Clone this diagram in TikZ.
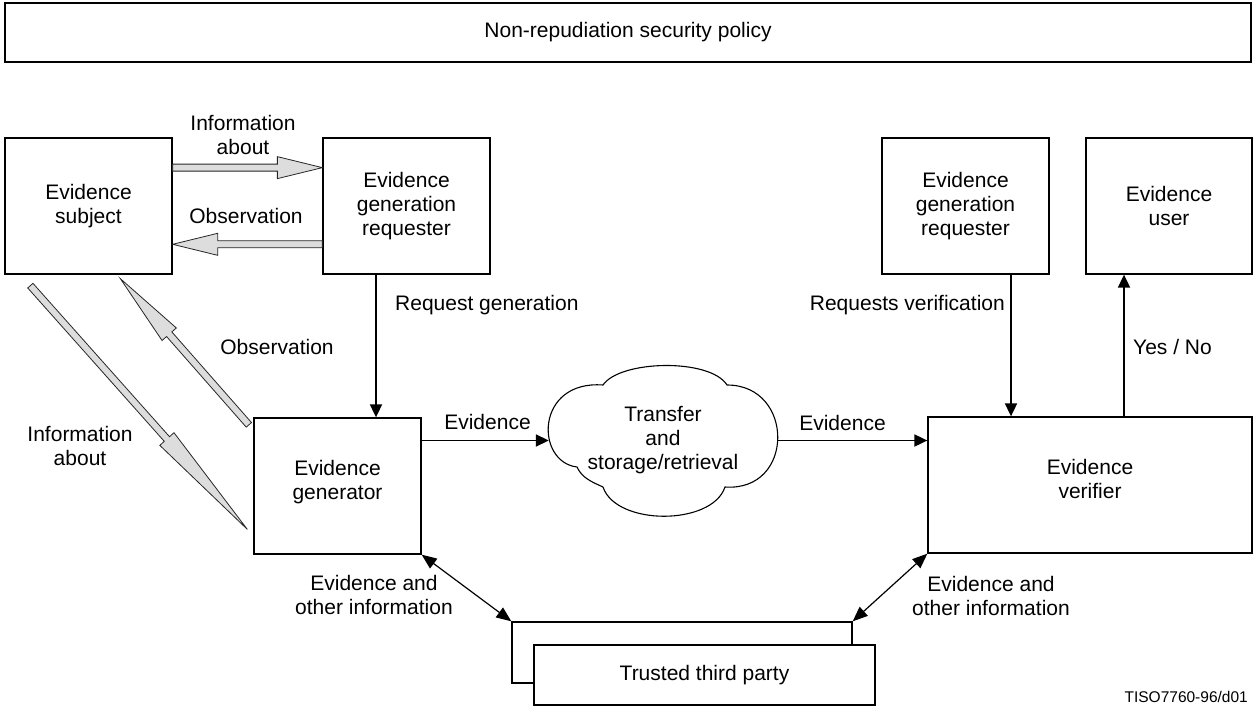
\documentclass[tikz,border=0pt]{standalone}
\usepackage{fontspec}
\setmainfont{Liberation Sans}
\usetikzlibrary{calc,arrows.meta}
\definecolor{fatgray}{RGB}{221,221,221}
\newcommand\fatarr[5]{% start, tip, head length, head half width, shaft half width
  \path (#1) coordinate (fa-s) (#2) coordinate (fa-t);
  \path ($(fa-t)!#3!(fa-s)$) coordinate (fa-h);
  \filldraw[fatstyle]
    ($(fa-s)!#5!90:(fa-t)$) -- ($(fa-h)!#5!90:(fa-t)$) -- ($(fa-h)!#4!90:(fa-t)$)
    -- (fa-t)
    -- ($(fa-h)!#4!-90:(fa-t)$) -- ($(fa-h)!#5!-90:(fa-t)$) -- ($(fa-s)!#5!-90:(fa-t)$) -- cycle;
}
\tikzset{
  box/.style={draw, line width=1.3pt, align=center, inner sep=0pt},
  lbl/.style={align=center, inner sep=0pt},
  fatstyle/.style={fill=fatgray, draw=black!85, line width=0.8pt, line join=miter},
  flow/.style={line width=1.8pt, -{Triangle[length=13pt,width=12pt]}},
  dbl/.style={line width=1.2pt, {Triangle[length=15pt,width=12pt]}-{Triangle[length=15pt,width=12pt]}},
}
\begin{document}
\begin{tikzpicture}[x=1pt, y=-1pt, font=\fontsize{21}{24}\selectfont]
\useasboundingbox (0,0) rectangle (1257,711);

% boxes
\node[box, minimum width=1246pt, minimum height=59pt] (policy) at (628,32.5) {Non-repudiation security policy};
\node[box, minimum width=167pt, minimum height=136pt] (subj) at (88.5,206) {Evidence\\subject};
\node[box, minimum width=167pt, minimum height=136pt] (reqL) at (406.5,206) {Evidence\\generation\\requester};
\node[box, minimum width=167pt, minimum height=136pt] (reqR) at (965.5,206) {Evidence\\generation\\requester};
\node[box, minimum width=166pt, minimum height=136pt] (user) at (1169,206) {Evidence\\user};
\node[box, minimum width=167pt, minimum height=136pt, text depth=12pt] (gen) at (337.5,486) {Evidence\\generator};
\node[box, minimum width=324pt, minimum height=136pt, text depth=12pt] (ver) at (1090,485) {Evidence\\verifier};
\node[box, minimum width=340pt, minimum height=61pt] (ttpback) at (682,652.5) {};
\node[box, fill=white, minimum width=341pt, minimum height=60pt] (ttp) at (704.5,675) {Trusted third party};

% cloud
\node[lbl, minimum width=228pt, minimum height=151pt] (cloud) at (663,440.5) {Transfer\\and\\storage/retrieval};
\draw[line width=1.1pt] (603,385) .. controls (620,360) and (710,358) .. (727,385)
  .. controls (795,385) and (795,492) .. (725,487)
  .. controls (712,526) and (616,526) .. (603,487)
  .. controls (592,482) and (582,478) .. (577,467)
  .. controls (535,462) and (535,380) .. (603,385) -- cycle;

% gray fat arrows
\fatarr{$(subj.north east)!0.2206!(subj.south east)$}{$(reqL.north west)!0.2206!(reqL.south west)$}{45pt}{11pt}{3.5pt}
\fatarr{$(reqL.north west)!0.779!(reqL.south west)$}{$(subj.north east)!0.779!(subj.south east)$}{45pt}{11pt}{3.5pt}
\fatarr{$(subj.south west)+(26,11)$}{$(gen.north west)!0.816!(gen.south west)+(-6,0)$}{121pt}{9.5pt}{3.5pt}
\fatarr{$(gen.north west)+(-4.5,7.5)$}{$(subj.south west)+(116,4)$}{74pt}{9.5pt}{3.5pt}

% black connectors
\coordinate (xrg) at (376,0);
\coordinate (xrv) at (1011,0);
\coordinate (xyn) at (1124,0);
\draw[flow] (reqL.south -| xrg) -- (gen.north -| xrg);
\draw[flow] (reqR.south -| xrv) -- (ver.north -| xrv);
\draw[flow] (ver.north -| xyn) -- (user.south -| xyn);
\draw[flow] (gen.north east |- cloud.west) -- (cloud.west);
\draw[flow] (cloud.east) -- (ver.north west |- cloud.east);
\draw[dbl] (gen.south east) -- (ttpback.north west);
\draw[dbl] (ver.south west) -- (ttpback.north east);

% labels
\node[lbl] (l1) at (243,134.5) {Information\\about};
\node[lbl] (l2) at (246,216) {Observation};
\node[lbl, anchor=west] (l3) at (395,305) {Request generation};
\node[lbl] (l4) at (277,347) {Observation};
\node[lbl] (l5) at (80,445.5) {Information\\about};
\node[lbl] (l6) at (487.5,422) {Evidence};
\node[lbl] (l7) at (842.5,423) {Evidence};
\node[lbl, anchor=east] (l8) at (1005,305) {Requests verification};
\node[lbl, anchor=west] (l9) at (1133,347) {Yes / No};
\node[lbl] (l10) at (374,595) {Evidence and\\other information};
\node[lbl] (l11) at (991,595.5) {Evidence and\\other information};
\node[lbl, anchor=east, font=\fontsize{15.5}{18}\selectfont] (foot) at (1248,697) {TISO7760-96/d01};
\end{tikzpicture}
\end{document}
